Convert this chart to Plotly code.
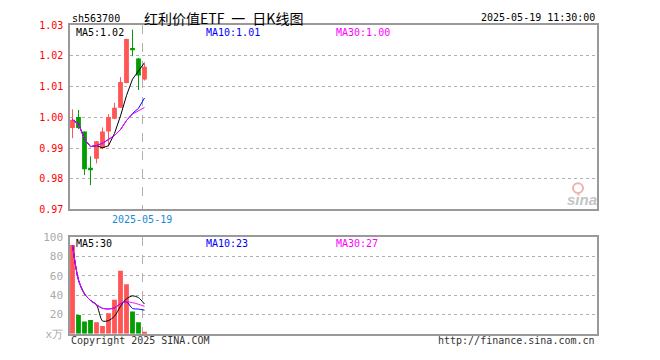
import plotly.graph_objects as go
import pandas as pd

# ---------------- data ----------------
symbol = "sh563700"
title_text = "红利价值ETF\u2002一\u2002日K线图"
timestamp = "2025-05-19 11:30:00"
last_date = "2025-05-19"

opens  = [0.9965, 1.0001, 0.9954, 0.9831, 0.9865, 0.9899, 0.9954, 0.9995, 1.0031, 1.0112, 1.0222, 1.0192, 1.0123]
closes = [0.9992, 0.9965, 0.9831, 0.9830, 0.9922, 0.9954, 1.0001, 1.0031, 1.0115, 1.0255, 1.0220, 1.0136, 1.0165]
highs  = [1.0026, 1.0024, 0.9954, 0.9873, 0.9923, 0.9967, 1.0010, 1.0047, 1.0131, 1.0256, 1.0286, 1.0193, 1.0174]
lows   = [0.9932, 0.9962, 0.9812, 0.9779, 0.9850, 0.9897, 0.9905, 0.9994, 1.0031, 1.0111, 1.0199, 1.0089, 1.0120]
volumes = [92, 19.3, 12.7, 14.3, 12, 8, 21.3, 35.3, 65.3, 51.3, 23, 12, 2]

price_ticks = [0.97, 0.98, 0.99, 1.00, 1.01, 1.02, 1.03]
vol_ticks = [0, 20, 40, 60, 80, 100]
vol_tick_text = ["x万", "20", "40", "60", "80", "100"]

price_ma_labels = ["MA5:1.02", "MA10:1.01", "MA30:1.00"]
vol_ma_labels = ["MA5:30", "MA10:23", "MA30:27"]
ma_windows = [5, 10, 30]

# ---------------- styles ----------------
W, H = 660, 360
RED = "#ff5555"
GREEN = "#009e00"
MA_COLORS = ["#000000", "#0000ff", "#ff00ff"]
FRAME = "#999999"
GRID = "#b0b0b0"
MONO = "DejaVu Sans Mono"

def fx(px):
    return px / W

def fy(py):
    return 1 - py / H

X0, X1 = 70, 597
PT, PB = 20, 211
VT, VB = 240, 340
SLOT = 6.0
r0 = -2.5 / SLOT
r1 = r0 + (X1 - X0) / SLOT

idx = list(range(len(closes)))
up = [c >= o for o, c in zip(opens, closes)]
colors = [RED if u else GREEN for u in up]

fig = go.Figure()

# wicks
for want_up, col in [(True, RED), (False, GREEN)]:
    wx, wy = [], []
    for i in idx:
        if up[i] == want_up:
            wx += [i, i, None]
            wy += [lows[i], highs[i], None]
    fig.add_trace(go.Scatter(x=wx, y=wy, mode="lines", line=dict(color=col, width=1),
                             xaxis="x", yaxis="y", hoverinfo="skip", showlegend=False))

# bodies
min_body = 0.0006
bases = [min(o, c) for o, c in zip(opens, closes)]
heights = [max(abs(c - o), min_body) for o, c in zip(opens, closes)]
fig.add_trace(go.Bar(x=idx, y=heights, base=bases, width=0.8, marker=dict(color=colors, line=dict(width=0)),
                     xaxis="x", yaxis="y", hoverinfo="skip", showlegend=False))

# price MAs (drawn so the MA30 ends on top)
cs = pd.Series(closes)
for w, col in zip(ma_windows, MA_COLORS):
    ma = cs.rolling(w, min_periods=1).mean()
    fig.add_trace(go.Scatter(x=idx, y=ma, mode="lines", line=dict(color=col, width=1),
                             xaxis="x", yaxis="y", hoverinfo="skip", showlegend=False))

# volume
fig.add_trace(go.Bar(x=idx, y=volumes, width=0.8, marker=dict(color=colors, line=dict(width=0)),
                     xaxis="x2", yaxis="y2", hoverinfo="skip", showlegend=False))
vs = pd.Series(volumes)
for w, col in zip(ma_windows, MA_COLORS):
    ma = vs.rolling(w, min_periods=1).mean()
    fig.add_trace(go.Scatter(x=idx, y=ma, mode="lines", line=dict(color=col, width=1, shape="spline", smoothing=0.8),
                             xaxis="x2", yaxis="y2", hoverinfo="skip", showlegend=False))

date_pos = idx[-1] - 0.4

common_x = dict(domain=[fx(X0), fx(X1)], range=[r0, r1], showline=True, mirror=True, linecolor=FRAME,
                linewidth=1.5, zeroline=False, showgrid=True, gridcolor=GRID, griddash="dash", gridwidth=1,
                tickvals=[date_pos], ticks="", fixedrange=True)

fig.update_layout(
    width=W, height=H, autosize=False,
    margin=dict(l=0, r=0, t=0, b=0),
    paper_bgcolor="white", plot_bgcolor="white",
    barmode="overlay", showlegend=False,
    font=dict(family=MONO, size=10, color="#000"),
    xaxis=dict(common_x, anchor="y", ticktext=[last_date],
               tickfont=dict(family=MONO, size=10, color="#1a8ad4")),
    xaxis2=dict(common_x, anchor="y2", showticklabels=False),
    yaxis=dict(domain=[fy(PB), fy(PT)], range=[price_ticks[0], price_ticks[-1]], anchor="x",
               showline=True, mirror=True, linecolor=FRAME, linewidth=1.5, zeroline=False,
               showgrid=True, gridcolor=GRID, griddash="dot", gridwidth=1,
               tickvals=price_ticks, ticktext=[f"{v:.2f}" for v in price_ticks], ticks="",
               tickfont=dict(family=MONO, size=10, color="#ff0000"), ticklabelstandoff=3, fixedrange=True),
    yaxis2=dict(domain=[fy(VB), fy(VT)], range=[vol_ticks[0], vol_ticks[-1]], anchor="x2",
                showline=True, mirror=True, linecolor=FRAME, linewidth=1.5, zeroline=False,
                showgrid=True, gridcolor=GRID, griddash="dot", gridwidth=1,
                tickvals=vol_ticks, ticktext=vol_tick_text, ticks="",
                tickfont=dict(family=MONO, size=11, color="#aaaaaa"), ticklabelstandoff=3, fixedrange=True),
)

ann = []
def txt(text, x, y, anchor="left", size=10, color="#000", family=MONO, **kw):
    ann.append(dict(text=text, x=fx(x), y=fy(y), xref="paper", yref="paper", xanchor=anchor,
                    yanchor="middle", showarrow=False, font=dict(family=family, size=size, color=color), **kw))

txt(symbol, 70, 13)
txt(title_text, 223, 12, anchor="center", size=14, family="Noto Sans CJK SC")
txt(timestamp, 597, 12, anchor="right")
for lab, x, col in zip(price_ma_labels, [74, 204, 334], MA_COLORS):
    txt(lab, x, 27, color=col)
for lab, x, col in zip(vol_ma_labels, [74, 204, 334], MA_COLORS):
    txt(lab, x, 246, color=col)
txt("Copyright 2025 SINA.COM", 69, 347, color="#333333")
txt("http://finance.sina.com.cn", 597, 347, anchor="right", color="#333333")
txt("<i><b>sina</b></i>", 582, 201, anchor="center", size=15, color="#c4c4c4", family="Liberation Sans")
fig.update_layout(annotations=ann)

fig.add_shape(type="circle", xref="paper", yref="paper", x0=fx(573), x1=fx(583), y0=fy(194), y1=fy(184),
              line=dict(color="#f2b0b0", width=2), fillcolor="rgba(0,0,0,0)")

fig.write_html("out.html")
